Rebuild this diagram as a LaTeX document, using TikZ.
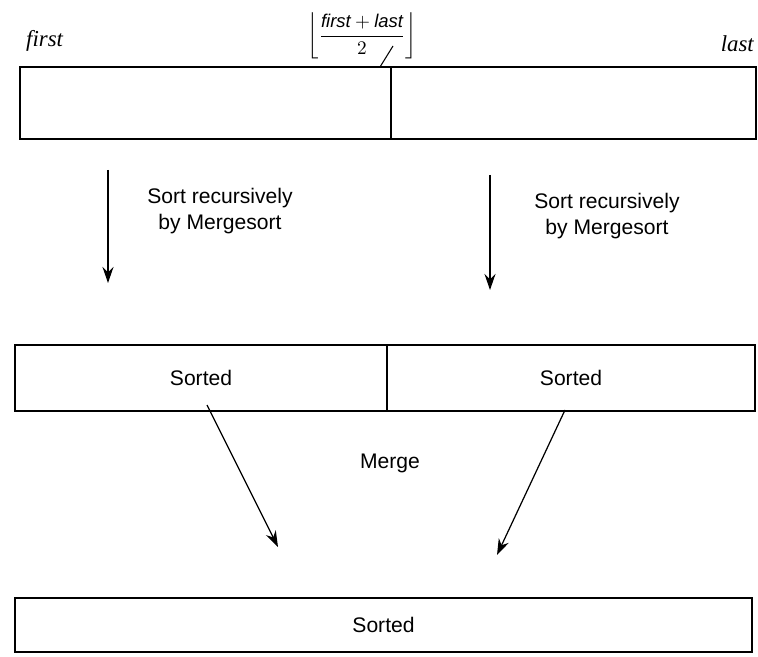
\documentclass[tikz,border=0pt]{standalone}
\usepackage{amsmath}
\usepackage{fontspec}
\setmainfont{Liberation Sans}
\newfontfamily\labelfont{Liberation Serif}
\usetikzlibrary{calc, arrows.meta}
\tikzset{cell/.style={draw, rectangle, inner sep=0pt, line width=.8pt},
  note/.style={font=\fontsize{12}{15}\selectfont, align=center},
  flow/.style={-{Stealth[length=3.2mm, width=2.2mm]}, line width=.7pt}}

\begin{document}
\begin{tikzpicture}
\useasboundingbox (0, 0) rectangle (15.16, -13.14);
% first pass: the array split in the middle
\node at (4.11, -2.06) [name=topL, cell, minimum width=7.42cm, minimum height=1.44cm] {};
\node at (11.47, -2.06) [name=topR, cell, minimum width=7.3cm, minimum height=1.44cm] {};
\node at (0.4, -0.82) [name=first, anchor=west, font=\labelfont\itshape\fontsize{13}{15}\selectfont] {first};
\node at (15.2, -0.88) [name=last, anchor=east, font=\labelfont\itshape\fontsize{13}{15}\selectfont] {last};
\node at (7.24, -0.72) [name=mid, inner sep=0pt, font=\labelfont\fontsize{10.5}{12}\selectfont] {$\bigg\lfloor\dfrac{\mathit{first}+\mathit{last}}{2}\bigg\rfloor$};
\coordinate (tick) at (7.6, -1.34);
\draw [line width=.6pt] (7.86, -0.92) -- (tick);
% recursion
\coordinate (a1) at (2.16, -3.4);
\coordinate (a2) at (2.16, -5.66);
\coordinate (b1) at (9.8, -3.5);
\coordinate (b2) at (9.8, -5.8);
\draw [flow] (a1) -- (a2);
\draw [flow] (b1) -- (b2);
\node at (4.4, -4.22) [name=recL, note] {Sort recursively\\by Mergesort};
\node at (12.14, -4.32) [name=recR, note] {Sort recursively\\by Mergesort};
% sorted halves
\node at (4.02, -7.56) [name=midL, cell, minimum width=7.44cm, minimum height=1.32cm, note] {Sorted};
\node at (11.42, -7.56) [name=midR, cell, minimum width=7.36cm, minimum height=1.32cm, note] {Sorted};
% merging
\coordinate (c1) at (4.14, -8.1);
\coordinate (c2) at (5.56, -10.94);
\coordinate (d1) at (11.3, -8.2);
\coordinate (d2) at (9.94, -11.1);
\draw [flow] (c1) -- (c2);
\draw [flow] (d1) -- (d2);
\node at (7.8, -9.26) [name=merge, note] {Merge};
\node at (7.67, -12.5) [name=whole, cell, minimum width=14.74cm, minimum height=1.08cm, note] {Sorted};
\end{tikzpicture}
\end{document}
